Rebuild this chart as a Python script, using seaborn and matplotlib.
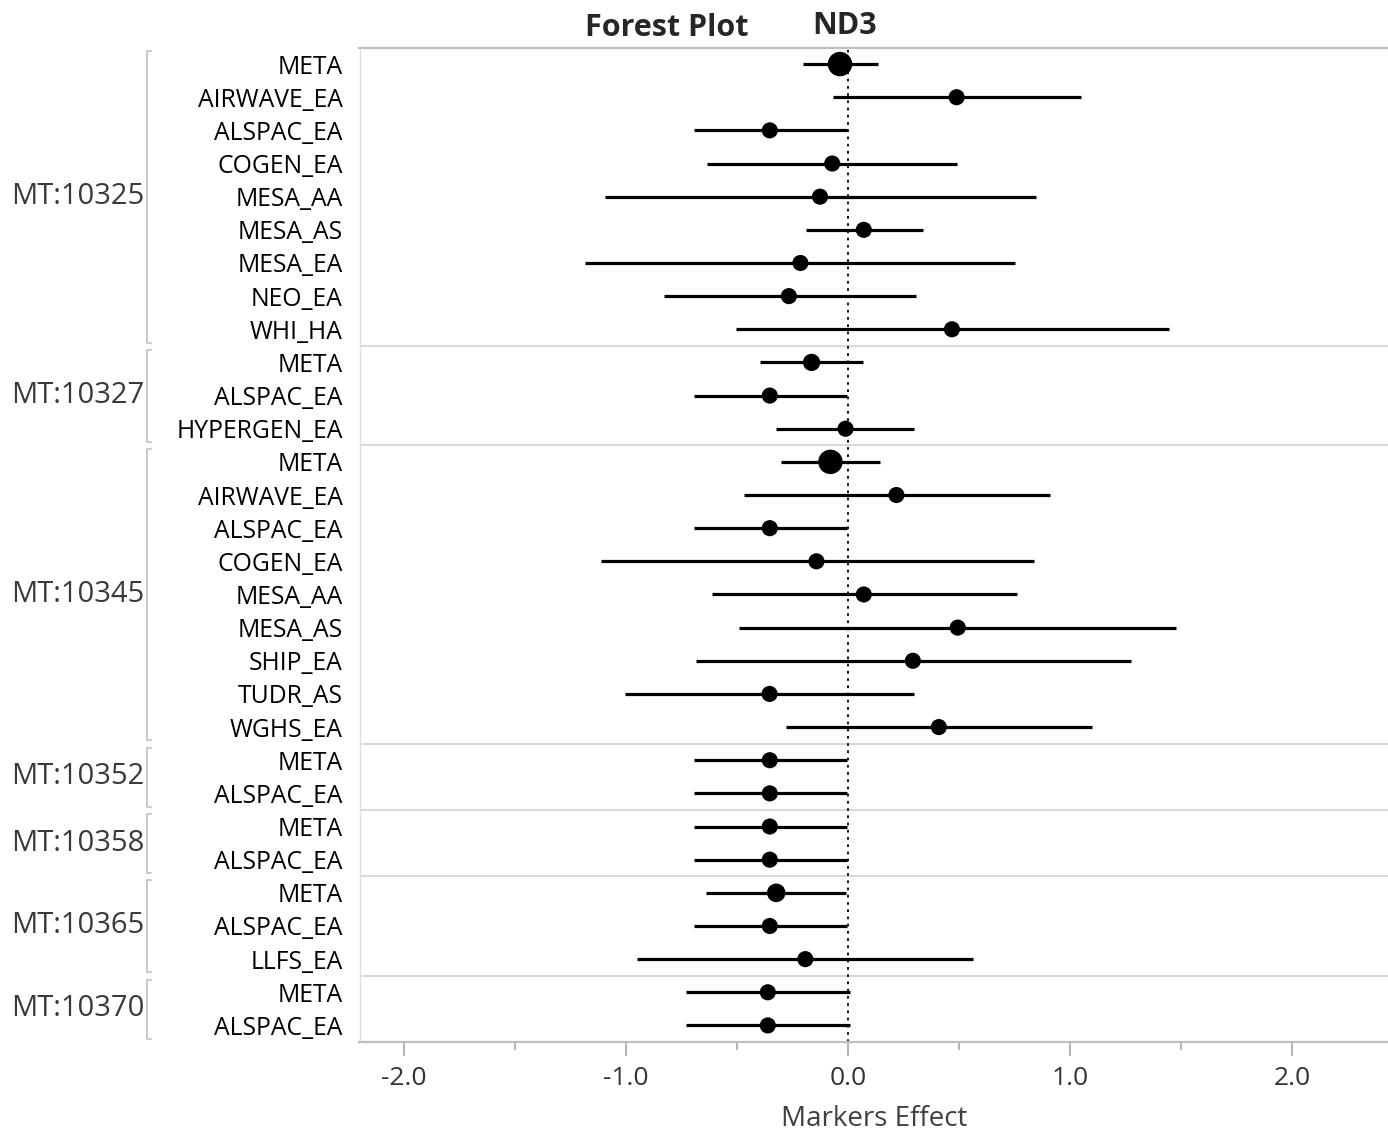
import matplotlib

matplotlib.use("Agg")
import matplotlib.pyplot as plt
import matplotlib.transforms as mtransforms
import numpy as np
import pandas as pd
import seaborn as sns
from matplotlib.lines import Line2D
from matplotlib.ticker import FormatStrFormatter, MultipleLocator

# groups (markers) and how many study rows each one has
groups = ["MT:10325", "MT:10327", "MT:10345", "MT:10352", "MT:10358", "MT:10365", "MT:10370"]
group_sizes = [9, 3, 9, 2, 2, 3, 2]

studies = [
    "META", "AIRWAVE_EA", "ALSPAC_EA", "COGEN_EA", "MESA_AA", "MESA_AS", "MESA_EA", "NEO_EA", "WHI_HA",
    "META", "ALSPAC_EA", "HYPERGEN_EA",
    "META", "AIRWAVE_EA", "ALSPAC_EA", "COGEN_EA", "MESA_AA", "MESA_AS", "SHIP_EA", "TUDR_AS", "WGHS_EA",
    "META", "ALSPAC_EA",
    "META", "ALSPAC_EA",
    "META", "ALSPAC_EA", "LLFS_EA",
    "META", "ALSPAC_EA",
]
effect = [
    -0.037, 0.488, -0.353, -0.072, -0.127, 0.070, -0.215, -0.267, 0.467,
    -0.165, -0.353, -0.012,
    -0.080, 0.217, -0.353, -0.143, 0.070, 0.493, 0.291, -0.354, 0.408,
    -0.353, -0.353,
    -0.353, -0.353,
    -0.324, -0.353, -0.193,
    -0.362, -0.362,
]
ci_low = [
    -0.203, -0.070, -0.695, -0.635, -1.093, -0.189, -1.185, -0.829, -0.507,
    -0.396, -0.695, -0.324,
    -0.301, -0.468, -0.695, -1.115, -0.614, -0.491, -0.684, -1.005, -0.282,
    -0.695, -0.695,
    -0.695, -0.695,
    -0.638, -0.695, -0.950,
    -0.731, -0.731,
]
ci_high = [
    0.134, 1.050, -0.006, 0.490, 0.846, 0.338, 0.751, 0.307, 1.446,
    0.066, -0.006, 0.298,
    0.141, 0.909, -0.006, 0.837, 0.760, 1.477, 1.273, 0.298, 1.097,
    -0.006, -0.006,
    -0.006, -0.006,
    -0.012, -0.006, 0.560,
    0.007, 0.007,
]
weight = [
    1.6, 1, 1, 1, 1, 1, 1, 1, 1,
    1.07, 1, 1,
    1.6, 1, 1, 1, 1, 1, 1, 1, 1,
    1, 1,
    1, 1,
    1.15, 1, 1,
    1, 1,
]

df = pd.DataFrame({
    "group": np.repeat(groups, group_sizes),
    "study": studies,
    "effect": effect,
    "lo": ci_low,
    "hi": ci_high,
    "weight": weight,
})
df["row"] = np.arange(len(df))

sns.set_theme(style="white")
plt.rcParams["font.family"] = ["Open Sans", "DejaVu Sans"]
plt.rcParams["axes.unicode_minus"] = False

W, H = 1388, 1134
fig = plt.figure(figsize=(W / 100, H / 100), dpi=100)
ax = fig.add_axes([359.5 / W, 1 - 1042 / H, 1 - 359.5 / W, (1042 - 47.5) / H])

# zero reference line
ax.axvline(0, color="black", ls=(0, (1.5, 2.5)), lw=1.3, zorder=1)

# confidence intervals + point estimates
ax.hlines(df["row"], df["lo"], df["hi"], color="black", lw=2.3, zorder=2)
sns.scatterplot(
    data=df, x="effect", y="row", size="weight", sizes=(135, 310), size_norm=(1.0, 1.6),
    color="black", linewidth=0, legend=False, ax=ax, zorder=3,
)

# separators between groups
bounds = np.cumsum(group_sizes)[:-1] - 0.5
for b in bounds:
    ax.axhline(b, color="#d9d9d9", lw=1.5, zorder=0)

ax.set_xlim(-2.2, 2.43)
ax.set_ylim(len(df) - 0.5, -0.5)
ax.set_yticks(df["row"], df["study"])
ax.tick_params(axis="y", length=0, pad=12, labelsize=17.8, labelcolor="black")

ax.xaxis.set_major_locator(MultipleLocator(1.0))
ax.xaxis.set_minor_locator(MultipleLocator(0.5))
ax.xaxis.set_major_formatter(FormatStrFormatter("%.1f"))
ax.tick_params(axis="x", which="major", bottom=True, length=10, width=1.2,
               color="#a6a6a6", labelsize=19, labelcolor="#333333", pad=7)
ax.tick_params(axis="x", which="minor", bottom=True, length=6, width=1.2, color="#a6a6a6")
ax.set_xlabel("Markers Effect", fontsize=20, color="#404040", labelpad=10)
ax.set_ylabel("")

ax.spines["right"].set_visible(False)
ax.spines["top"].set_color("#bfbfbf")
ax.spines["top"].set_linewidth(1.6)
ax.spines["bottom"].set_color("#bfbfbf")
ax.spines["bottom"].set_linewidth(1.6)
ax.spines["left"].set_color("#e0e0e0")
ax.spines["left"].set_linewidth(1.0)

# group labels with brackets on the far left
trans = mtransforms.blended_transform_factory(fig.transFigure, ax.transData)
start = 0
for g, n in zip(groups, group_sizes):
    top, bot = start - 0.38, start + n - 1 + 0.4
    xb, xt = 147 / W, 151 / W
    fig.add_artist(Line2D([xt, xb, xb, xt], [top, top, bot, bot], transform=trans,
                          color="#c8c8c8", lw=1.4))
    ax.text(144 / W, start + (n - 1) / 2, g, transform=trans, ha="right", va="center",
            fontsize=21, color="#3a3a3a", clip_on=False)
    start += n

fig.text(585 / W, 1 - 36 / H, "Forest Plot", fontsize=22, fontweight="bold", va="baseline")
fig.text(812 / W, 1 - 34 / H, "ND3", fontsize=22, fontweight="bold", va="baseline")

fig.savefig("out.png", dpi=100)
